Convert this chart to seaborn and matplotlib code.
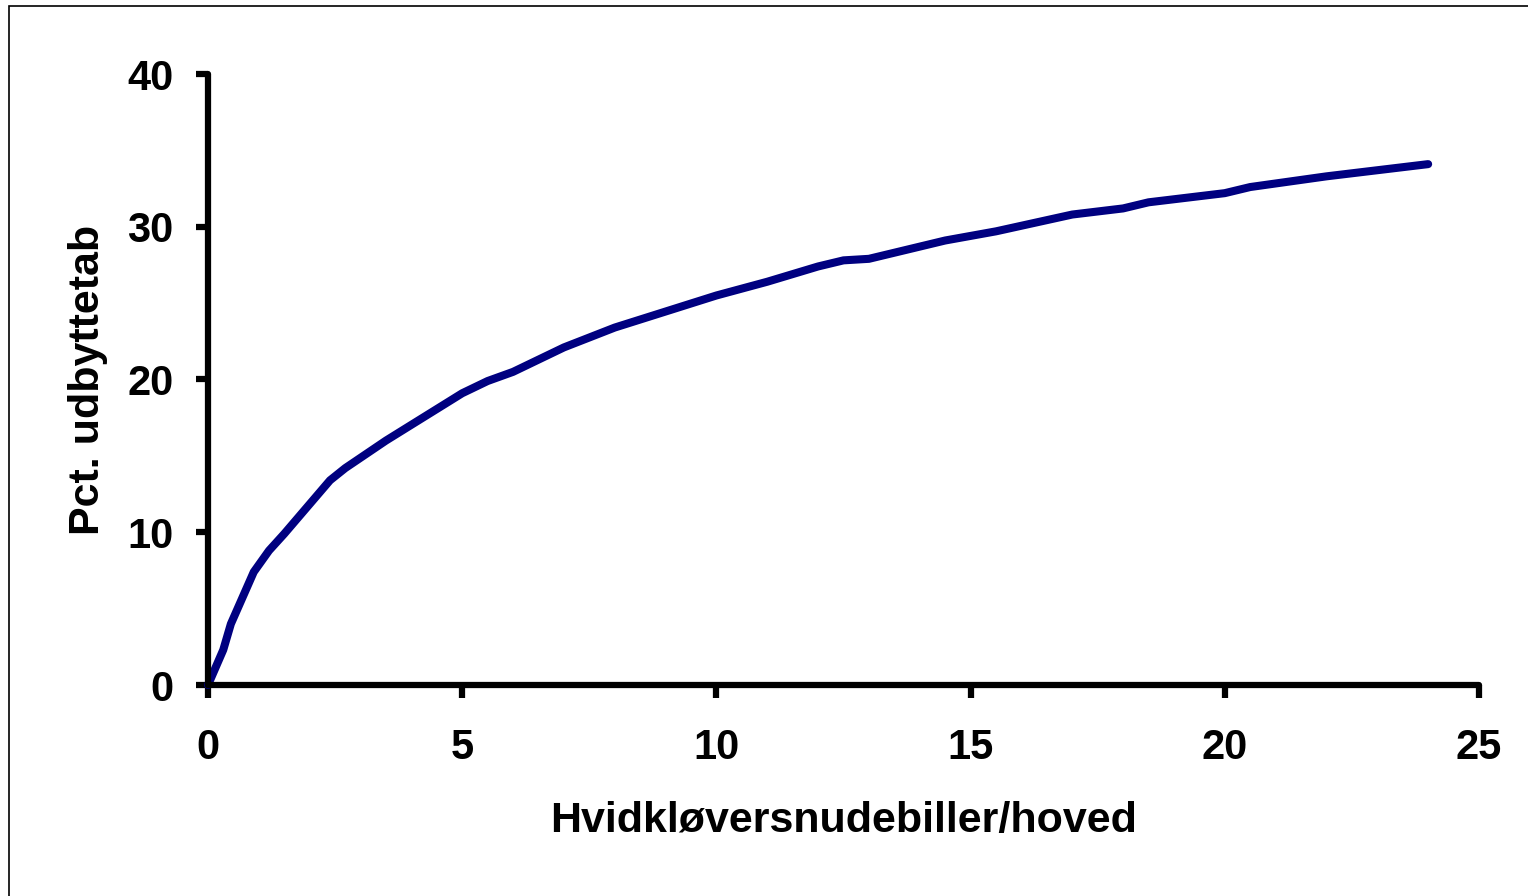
import numpy as np
import pandas as pd
import matplotlib
matplotlib.use('Agg')
import matplotlib.pyplot as plt
import seaborn as sns
from matplotlib.patches import Rectangle

# snudebiller pr. hoved vs. pct. udbyttetab (aflæst fra kurven)
biller = [0, 0.3, 0.45, 0.9, 1.2, 1.5, 2.4, 2.7, 3.5, 5, 5.5, 6, 7, 8,
          10, 11, 12, 12.5, 13, 14.5, 15, 15.5, 17, 18, 18.5, 20, 20.5,
          22, 23, 24]
tab = [0, 2.3, 4.0, 7.4, 8.8, 9.9, 13.4, 14.2, 16.0, 19.1, 19.9, 20.5,
       22.1, 23.4, 25.5, 26.4, 27.4, 27.8, 27.9, 29.1, 29.4, 29.7, 30.8,
       31.2, 31.6, 32.2, 32.6, 33.3, 33.7, 34.1]
x_ticks = [0, 5, 10, 15, 20, 25]
y_ticks = [0, 10, 20, 30, 40]

df = pd.DataFrame({'biller': biller, 'tab': tab})

sns.set_theme(style='white')
plt.rcParams['font.family'] = ['Liberation Sans', 'DejaVu Sans']
plt.rcParams['font.weight'] = 'bold'
plt.rcParams['text.color'] = 'black'
plt.rcParams['axes.labelcolor'] = 'black'

fig = plt.figure(figsize=(15.28, 8.96), dpi=100)
ax = fig.add_axes([208 / 1528, 1 - 685 / 896,
                   (1479 - 208) / 1528, (685 - 74) / 896])

sns.lineplot(data=df, x='biller', y='tab', ax=ax, color='#000080',
             linewidth=5.8, solid_capstyle='round', clip_on=False)

ax.set_xlim(0, 25)
ax.set_ylim(0, 40)
ax.set_xticks(x_ticks)
ax.set_yticks(y_ticks)
ax.tick_params(axis='both', direction='out', length=9, width=4.5,
               color='black', labelsize=30, labelcolor='black',
               bottom=True, left=True)
ax.tick_params(axis='x', pad=22)
ax.tick_params(axis='y', pad=16)
for lbl in ax.get_xticklabels() + ax.get_yticklabels():
    lbl.set_fontweight('bold')

for side in ['top', 'right']:
    ax.spines[side].set_visible(False)
for side in ['left', 'bottom']:
    ax.spines[side].set_linewidth(4.5)
    ax.spines[side].set_color('black')
    ax.spines[side].set_capstyle('round')

ax.set_xlabel('Hvidkløversnudebiller/hoved', fontsize=31,
              fontweight='bold', labelpad=24, color='black')
ax.set_ylabel('Pct. udbyttetab', fontsize=31, fontweight='bold',
              labelpad=14, color='black')

# ramme om diagrammet (kun venstre og øverste kant ses)
fig.patches.append(Rectangle((9 / 1528, -0.1), 1.2, 1 - 6 / 896 + 0.1,
                             transform=fig.transFigure, fill=False,
                             edgecolor='black', linewidth=1.2))

fig.savefig('out.png', dpi=100)
